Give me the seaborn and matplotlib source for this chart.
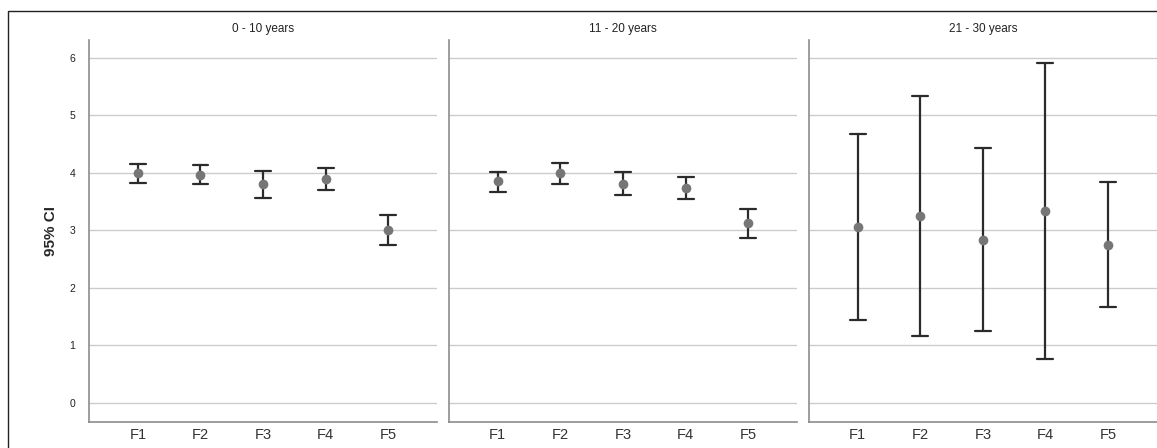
import pandas as pd
import numpy as np
import seaborn as sns
import matplotlib.pyplot as plt
from matplotlib.patches import Rectangle

groups = ['0 - 10 years', '11 - 20 years', '21 - 30 years']
factors = ['F1', 'F2', 'F3', 'F4', 'F5']

# mean and 95% CI bounds, one list per age group
mean_0_10 = [4.00, 3.97, 3.81, 3.89, 3.01]
low_0_10 = [3.83, 3.80, 3.57, 3.70, 2.74]
high_0_10 = [4.16, 4.14, 4.04, 4.09, 3.27]

mean_11_20 = [3.85, 3.99, 3.81, 3.74, 3.13]
low_11_20 = [3.67, 3.80, 3.61, 3.54, 2.87]
high_11_20 = [4.02, 4.17, 4.01, 3.92, 3.37]

mean_21_30 = [3.05, 3.25, 2.83, 3.34, 2.75]
low_21_30 = [1.44, 1.17, 1.25, 0.77, 1.66]
high_21_30 = [4.67, 5.33, 4.43, 5.91, 3.84]

means = [mean_0_10, mean_11_20, mean_21_30]
lows = [low_0_10, low_11_20, low_21_30]
highs = [high_0_10, high_11_20, high_21_30]

# long table: three rows per cell (low, mean, high) so median = mean, min/max = CI
rows = []
for g, m, lo, hi in zip(groups, means, lows, highs):
    for f, mv, lv, hv in zip(factors, m, lo, hi):
        for v in (lv, mv, hv):
            rows.append({'group': g, 'factor': f, 'value': v})
df = pd.DataFrame(rows)

sns.set_style('white')
plt.rcParams['font.family'] = ['Liberation Sans', 'DejaVu Sans']

fig, axes = plt.subplots(1, 3, figsize=(11.57, 4.48), dpi=100, sharey=True)
fig.subplots_adjust(left=0.0769, right=1.0, bottom=0.058, top=0.911, wspace=0.033)

for ax, g in zip(axes, groups):
    sub = df[df['group'] == g]
    sns.pointplot(data=sub, x='factor', y='value', order=factors, ax=ax,
                  estimator='median', errorbar=lambda v: (v.min(), v.max()),
                  linestyle='none', color='#767676', markersize=7,
                  markeredgewidth=0,
                  capsize=0.255, err_kws={'color': '#2b2b2b', 'linewidth': 1.6})
    for coll in ax.collections:
        coll.set_zorder(4)
    for ln in ax.lines:
        if ln.get_marker() not in (None, 'None', ''):
            ln.set_zorder(4)
    ax.set_ylim(-0.33, 6.31)
    ax.set_xlim(-0.78, 4.78)
    ax.set_yticks(range(0, 7))
    ax.yaxis.grid(True, color='#cccccc', linewidth=1.0)
    ax.set_axisbelow(True)
    ax.set_title(g, fontsize=8.5, color='#222222', pad=6)
    ax.set_xlabel('')
    ax.set_ylabel('')
    for s in ['top', 'right']:
        ax.spines[s].set_visible(False)
    for s in ['left', 'bottom']:
        ax.spines[s].set_color('#8c8c8c')
        ax.spines[s].set_linewidth(1.2)
    ax.tick_params(axis='x', labelsize=10.5, colors='#333333', length=0, pad=4)
    ax.tick_params(axis='y', labelsize=7.5, colors='#222222', length=0, pad=10)

axes[0].set_ylabel('95% CI', fontsize=11, fontweight='bold', labelpad=8)
for ax in axes[1:]:
    ax.tick_params(axis='y', labelleft=False)

# outer frame of the exported chart
fig.patches.append(Rectangle((8 / 1157, -0.1), 1.2, 1 - 11 / 448 + 0.1,
                             transform=fig.transFigure, fill=False,
                             edgecolor='#222222', linewidth=1.0))

plt.savefig('out.png', dpi=100)
